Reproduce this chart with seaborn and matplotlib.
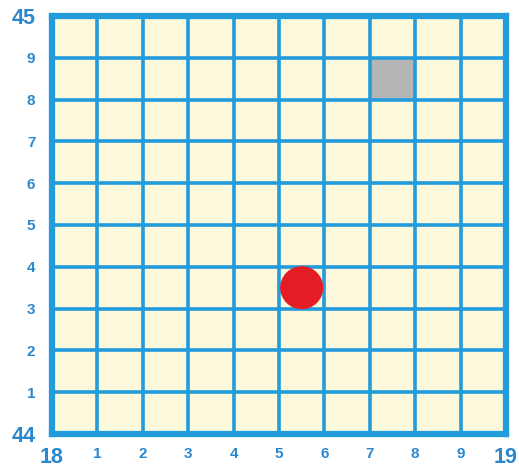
import matplotlib
matplotlib.use("Agg")
import matplotlib.pyplot as plt
import seaborn as sns
import pandas as pd

# data
x_tick_labels = ["18", "1", "2", "3", "4", "5", "6", "7", "8", "9", "19"]
y_tick_labels = ["44", "1", "2", "3", "4", "5", "6", "7", "8", "9", "45"]
point_x = [5.5]
point_y = [3.5]
gray_cell_x = [7, 8]
gray_cell_y = [8, 9]

sns.set_style("white")
plt.rcParams['font.family'] = ['Liberation Sans', 'DejaVu Sans']

BLUE = "#229cdc"
LABEL = "#2a88cf"

fig = plt.figure(figsize=(5.19, 4.69), dpi=100)
ax = fig.add_axes([52/519, 1 - 434/469, 454/519, 418/469])
ax.set_facecolor("#fcf8dc")

ax.fill_between(gray_cell_x, gray_cell_y[0], gray_cell_y[1], color="#b5b5b5", zorder=1, linewidth=0)

df = pd.DataFrame({"x": point_x, "y": point_y})
sns.scatterplot(data=df, x="x", y="y", ax=ax, s=960, color="#e31d23",
                edgecolor="none", zorder=5, legend=False)

ax.set_xlim(0, 10)
ax.set_ylim(0, 10)
ax.set_xticks(range(11))
ax.set_yticks(range(11))
ax.set_xticklabels(x_tick_labels)
ax.set_yticklabels(y_tick_labels)
ax.set_xlabel("")
ax.set_ylabel("")
ax.grid(True, color=BLUE, linewidth=2.6, zorder=2)
ax.set_axisbelow(False)
for sp in ax.spines.values():
    sp.set_visible(True)
    sp.set_color(BLUE)
    sp.set_linewidth(4.5)
    sp.set_zorder(3)

ax.tick_params(axis="both", length=0, colors=LABEL)
ax.tick_params(axis="x", pad=9)
ax.tick_params(axis="y", pad=12)
for i, t in enumerate(ax.get_xticklabels()):
    t.set_fontweight("bold")
    t.set_color(LABEL)
    t.set_fontsize(15.5 if i in (0, 10) else 11)
for i, t in enumerate(ax.get_yticklabels()):
    t.set_fontweight("bold")
    t.set_color(LABEL)
    t.set_fontsize(15.5 if i in (0, 10) else 11)

fig.savefig("out.png", dpi=100, facecolor="white")
